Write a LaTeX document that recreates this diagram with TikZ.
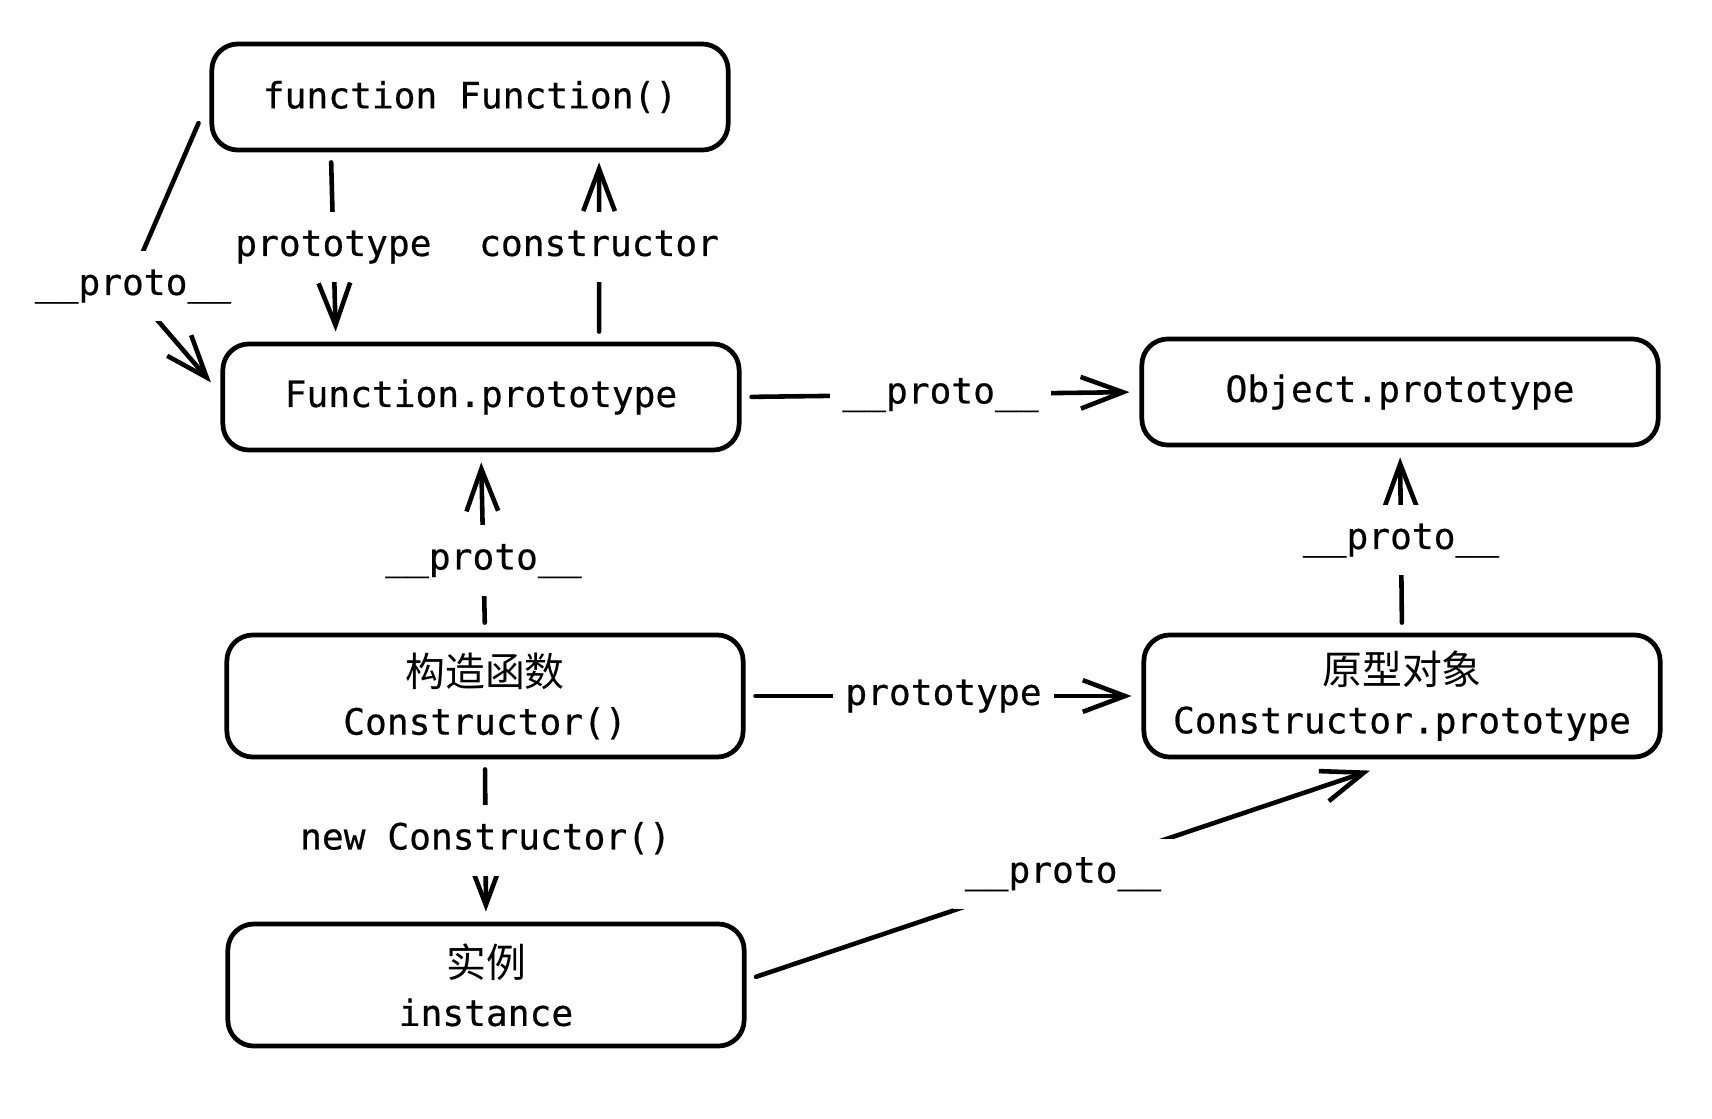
\documentclass[tikz,border=0pt]{standalone}
\usepackage{fontspec}
\usepackage{tikz}
\usetikzlibrary{arrows.meta}
\newfontfamily\codefont[FakeBold=0.5]{DejaVu Sans Mono}
\newfontfamily\cjkfont[Scale=1.1]{Noto Sans CJK SC}
\tikzset{
  box/.style  = {draw, rounded corners=0.26cm, line width=1.35pt, align=center,
                 minimum width=5.16cm, minimum height=1.06cm, inner sep=2pt,
                 font=\codefont\fontsize{10.3}{13.8}\selectfont},
  tall/.style = {minimum height=1.22cm},
  ar/.style   = {-{Straight Barb[length=12pt, width=9pt]}, line width=1.3pt,
                 line cap=round, shorten <=0.1cm, shorten >=0.1cm},
  lbl/.style  = {fill=white, font=\codefont\fontsize{10.3}{12}\selectfont,
                 text height=7.7pt, text depth=2.6pt, inner xsep=0.12cm, inner ysep=0.17cm},
}

\begin{document}
\begin{tikzpicture}[x=0.01cm, y=-0.01cm]
  \useasboundingbox (0,0) rectangle (1712,1118);
  % ---- boxes ----
  \node[box] (ff) at (470,97) {function Function()};
  \node[box] (fp) at (481,397) {Function.prototype};
  \node[box] (op) at (1400,392) {Object.prototype};
  \node[box, tall] (ct) at (485,696) {{\cjkfont 构造函数}\\Constructor()};
  \node[box, tall] (po) at (1402,696) {{\cjkfont 原型对象}\\Constructor.prototype};
  \node[box, tall] (inst) at (486,985) {{\cjkfont 实例}\\instance};

  % ---- links round Function ----
  \draw[ar] ([xshift=-1.39cm]ff.south) -- node[lbl] (l1) {prototype} ([xshift=-1.45cm]fp.north);
  \draw[ar] ([xshift=1.18cm]fp.north) -- node[lbl] (l2) {constructor} ([xshift=1.29cm]ff.south);
  \coordinate (bend) at (128,286);
  \draw[ar, rounded corners=0.3cm] ([xshift=-0.07cm,yshift=-0.17cm]ff.west) -- (bend)
        -- ([xshift=-0.03cm,yshift=0.07cm]fp.west);
  \node[lbl, inner xsep=0.02cm] (l3) at ([xshift=0.05cm]bend) {\_\_proto\_\_};
  \draw[ar] (fp.east) -- node[lbl] (l4) {\_\_proto\_\_} (op.west);

  % ---- links round the constructor ----
  \draw[ar] (ct.north) -- node[lbl, pos=0.4] (l5) {\_\_proto\_\_} (fp.south);
  \draw[ar] (ct.east) -- node[lbl] (l6) {prototype} (po.west);
  \draw[ar] (po.north) -- node[lbl] (l7) {\_\_proto\_\_} (op.south);
  \draw[ar] (ct.south) -- node[lbl] (l8) {new Constructor()} (inst.north);
  \draw[ar] ([yshift=0.05cm]inst.east) -- node[lbl] (l9) {\_\_proto\_\_}
        ([xshift=-0.225cm,yshift=-0.08cm]po.south);
\end{tikzpicture}
\end{document}
